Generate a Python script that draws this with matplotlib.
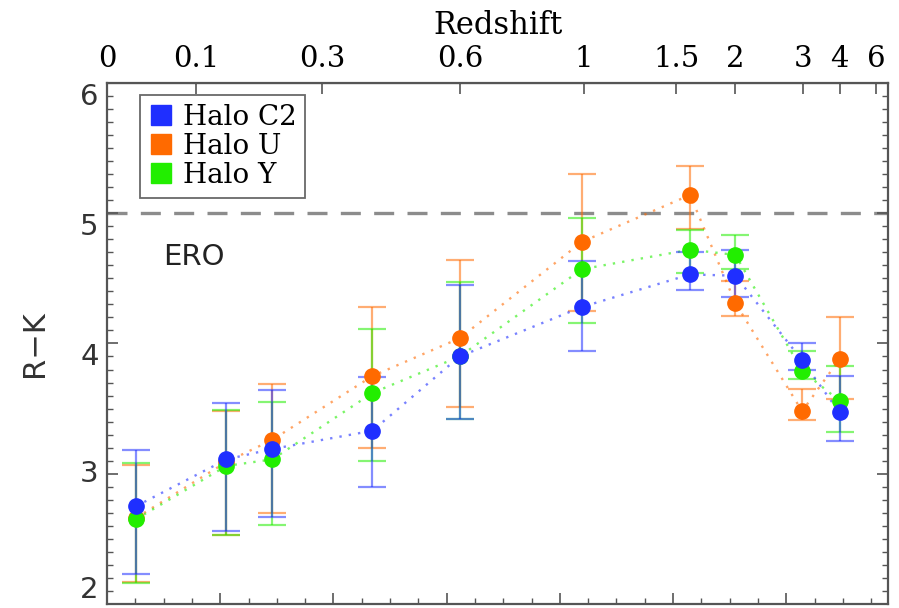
import matplotlib
matplotlib.use("Agg")
import matplotlib.pyplot as plt
from matplotlib.ticker import MultipleLocator
from matplotlib.lines import Line2D

# x positions on the (unlabelled) bottom axis, same units as the tick grid
t_pos = [0.51, 2.11, 2.92, 4.69, 6.23, 8.39, 10.30, 11.10, 12.28, 12.94]

# R-K colour and error-bar ends for each halo
c2_rk = [2.75, 3.11, 3.19, 3.33, 3.90, 4.28, 4.53, 4.52, 3.87, 3.47]
c2_hi = [3.18, 3.54, 3.64, 3.74, 4.45, 4.63, 4.70, 4.72, 4.00, 3.75]
c2_lo = [2.23, 2.56, 2.67, 2.90, 3.42, 3.94, 4.41, 4.36, 3.80, 3.25]

u_rk = [2.66, 3.09, 3.26, 3.75, 4.04, 4.78, 5.14, 4.31, 3.48, 3.88]
u_hi = [3.07, 3.48, 3.69, 4.28, 4.64, 5.30, 5.36, 4.48, 3.65, 4.20]
u_lo = [2.17, 2.53, 2.70, 3.20, 3.51, 4.25, 4.88, 4.21, 3.41, 3.57]

y_rk = [2.65, 3.06, 3.11, 3.62, 3.90, 4.57, 4.72, 4.68, 3.79, 3.56]
y_hi = [3.08, 3.49, 3.55, 4.11, 4.47, 4.96, 4.87, 4.83, 3.94, 3.83]
y_lo = [2.16, 2.53, 2.61, 3.10, 3.42, 4.16, 4.54, 4.57, 3.73, 3.32]

# redshift ticks on the top axis and where they fall on the bottom axis
z_labels = ["0", "0.1", "0.3", "0.6", "1", "1.5", "2", "3", "4", "6"]
z_pos = [0.0, 1.57, 3.80, 6.24, 8.42, 10.06, 11.10, 12.30, 12.94, 13.59]

rk_ticks = [2, 3, 4, 5, 6]

C_BLUE = "#1f2fff"
C_ORANGE = "#ff6a00"
C_GREEN = "#22ee00"
C_AXIS = "#555555"

fig = plt.figure(figsize=(8.99, 6.08), dpi=100)
ax = fig.add_axes([0.119, 0.0066, 0.869, 0.8570])

ax.axhline(5, color="#8c8c8c", lw=2.4, ls=(0, (6, 4)), zorder=1)

series = [
    ("Halo U", u_rk, u_lo, u_hi, C_ORANGE),
    ("Halo Y", y_rk, y_lo, y_hi, C_GREEN),
    ("Halo C2", c2_rk, c2_lo, c2_hi, C_BLUE),
]
for i, (name, rk, lo, hi, col) in enumerate(series):
    err = [[v - l for v, l in zip(rk, lo)], [h - v for v, h in zip(rk, hi)]]
    ax.errorbar(t_pos, rk, yerr=err, fmt="none", ecolor=col, elinewidth=1.6,
                capsize=10, capthick=1.6, alpha=0.55, zorder=2 + i)
    ax.plot(t_pos, rk, color=col, lw=1.7, ls=(0, (1, 3)), alpha=0.6,
            zorder=2 + i)
    ax.plot(t_pos, rk, "o", color=col, ms=11, mec=col, zorder=6 + i)

ax.set_xlim(0, 13.8)
ax.set_ylim(2, 6)

# axis cosmetics: inward ticks on all sides, no labels on bottom/right
ax.xaxis.set_major_locator(MultipleLocator(2))
ax.xaxis.set_minor_locator(MultipleLocator(0.5))
ax.set_yticks(rk_ticks, [str(v) for v in rk_ticks])
ax.yaxis.set_minor_locator(MultipleLocator(0.1))
ax.tick_params(axis="both", which="both", direction="in", color=C_AXIS)
ax.tick_params(axis="x", which="both", top=False, bottom=True,
               labelbottom=False)
ax.tick_params(axis="y", which="both", left=True, right=True)
ax.tick_params(which="major", length=8, width=1.2)
ax.tick_params(which="minor", length=4, width=1.0)
ax.tick_params(axis="y", labelsize=21, colors="#333333", pad=6)
ax.tick_params(axis="y", which="both", color=C_AXIS)
for lab, va in zip(ax.get_yticklabels(),
                   ["bottom", "center", "top", "top", "top"]):
    lab.set_family("DejaVu Sans")
    lab.set_verticalalignment(va)
for sp in ax.spines.values():
    sp.set_color(C_AXIS)
    sp.set_linewidth(1.6)

top = ax.secondary_xaxis("top")
top.set_xticks(z_pos, z_labels)
top.tick_params(direction="in", length=8, width=1.2, color=C_AXIS,
                labelsize=21, pad=7)
for lab in top.get_xticklabels():
    lab.set_family("DejaVu Serif")
top.set_xlabel("Redshift", fontsize=22, family="DejaVu Serif", labelpad=8)

ax.set_ylabel("R\u2212K", fontsize=22, family="DejaVu Sans", labelpad=22,
              color="#333333")

ax.text(1.0, 4.66, "ERO", fontsize=21, family="DejaVu Sans",
        ha="left", va="center", color="#222222")

handles = [Line2D([], [], marker="s", ls="none", color=c, ms=14)
           for c in (C_BLUE, C_ORANGE, C_GREEN)]
leg = ax.legend(handles, ["Halo C2", "Halo U", "Halo Y"], loc="upper left",
                bbox_to_anchor=(0.042, 0.976), frameon=True, fancybox=False,
                prop={"family": "DejaVu Serif", "size": 20},
                handlelength=0.9, handletextpad=0.35, labelspacing=0.08,
                borderpad=0.3, borderaxespad=0.0)
leg.get_frame().set_edgecolor("#444444")
leg.get_frame().set_linewidth(1.3)

fig.savefig("out.png", dpi=100)
